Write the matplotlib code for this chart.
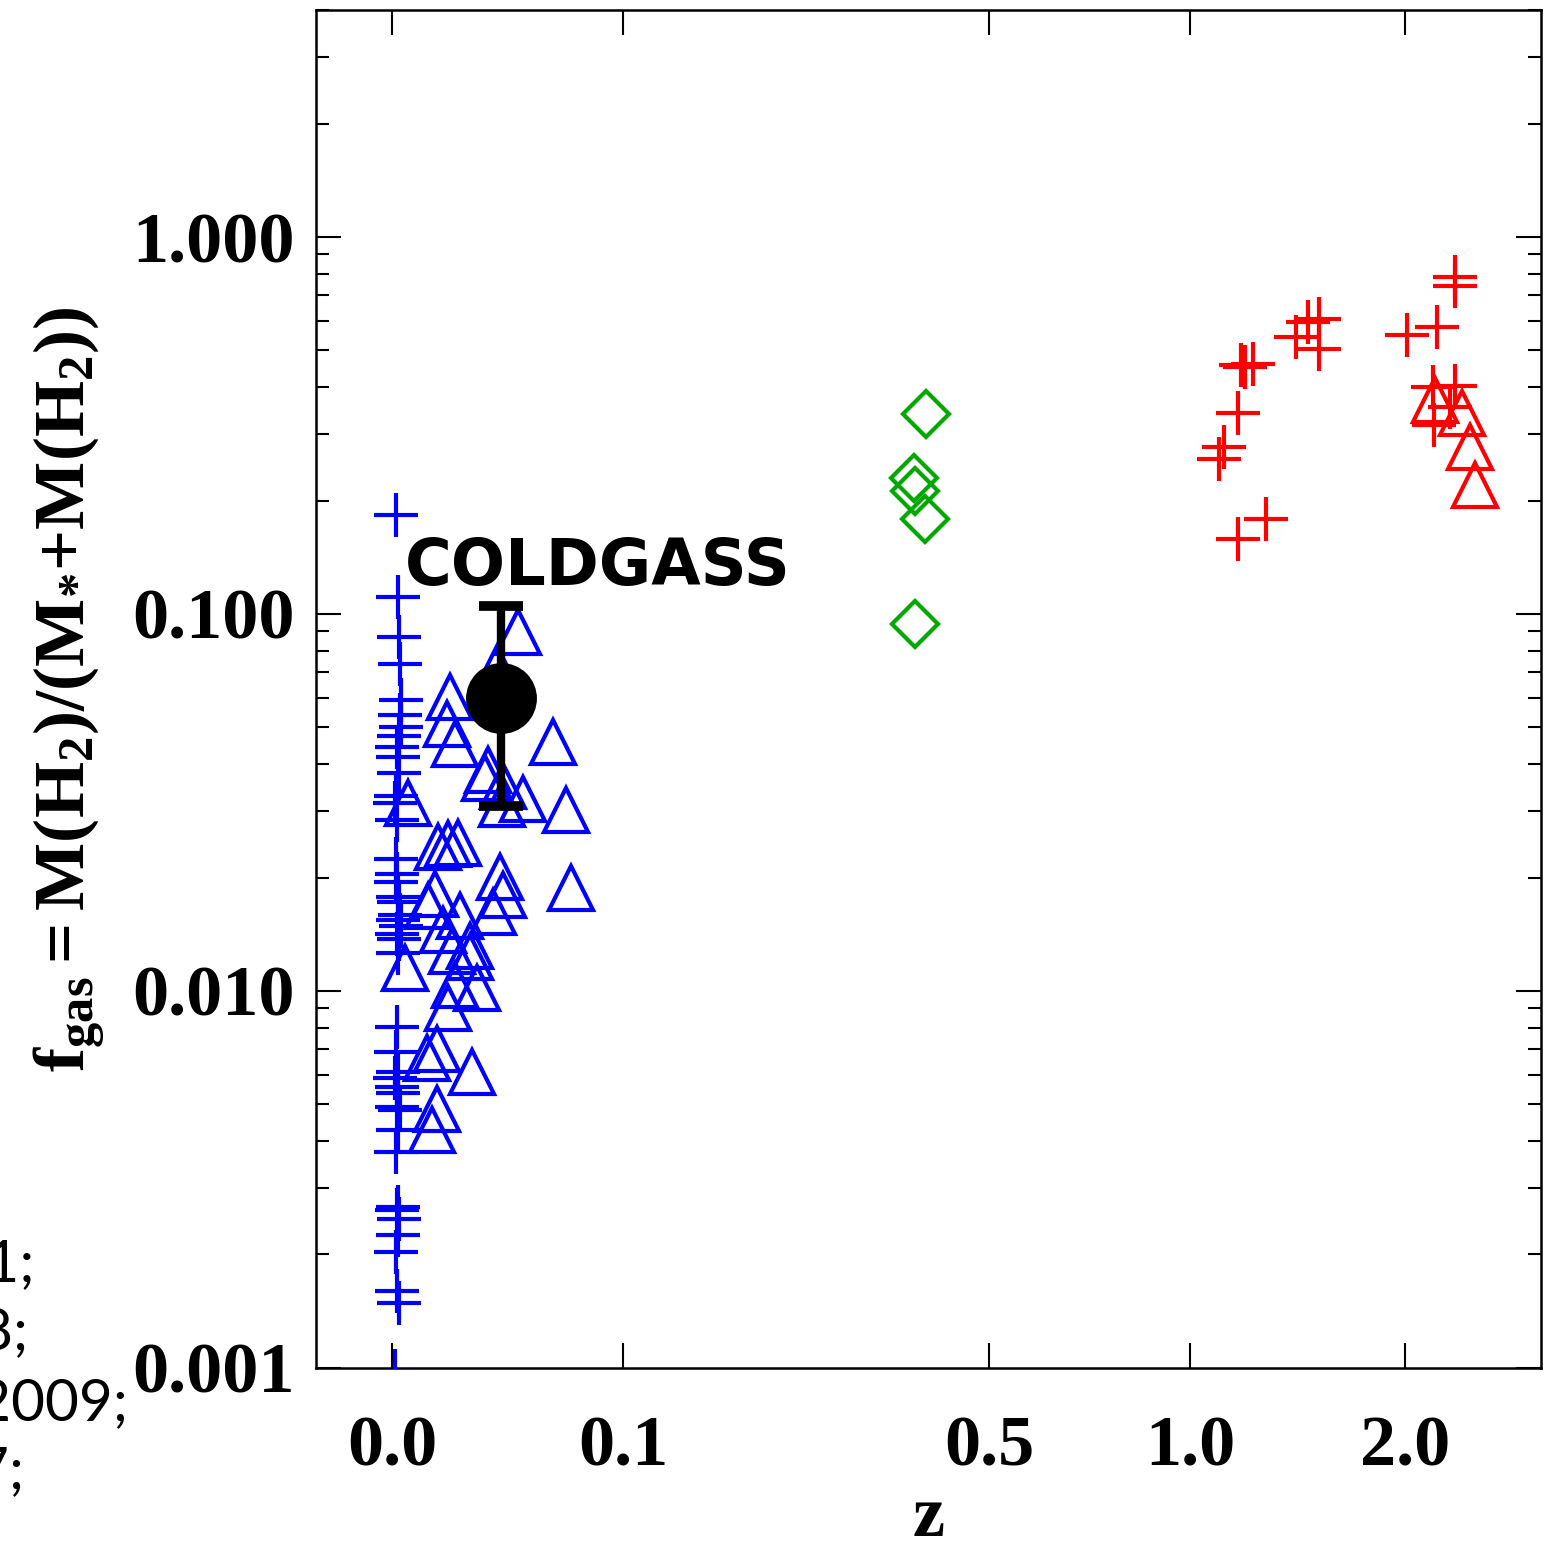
import numpy as np
import matplotlib
matplotlib.use('Agg')
import matplotlib.pyplot as plt
from matplotlib.ticker import FixedLocator, LogLocator, NullFormatter, FormatStrFormatter

# ---- data ----
# local galaxies, plus signs
blue_plus_z = [0.0017, 0.0026, 0.0030, 0.0035, 0.0039, 0.0035, 0.0040, 0.0030, 0.0022, 0.0026,
               0.0030, 0.0017, 0.0013, 0.0022, 0.0017, 0.0022, 0.0017, 0.0026, 0.0030, 0.0035,
               0.0026, 0.0039, 0.0022, 0.0030, 0.0026, 0.0022, 0.0017, 0.0026, 0.0013, 0.0022,
               0.0026, 0.0022, 0.0035, 0.0026, 0.0017, 0.0026, 0.0022, 0.0030, 0.0026, 0.0017,
               0.0022, 0.0030, 0.0013]
blue_plus_f = [0.183, 0.111, 0.0869, 0.0737, 0.0591, 0.0540, 0.0502, 0.0475, 0.0444, 0.0418,
               0.0379, 0.0329, 0.0315, 0.0284, 0.0224, 0.0204, 0.0195, 0.0178, 0.0172, 0.0159,
               0.0154, 0.0149, 0.0142, 0.0137, 0.0126, 0.00803, 0.00689, 0.00610, 0.00588, 0.00556,
               0.00536, 0.00493, 0.00484, 0.00428, 0.00374, 0.00267, 0.00262, 0.00248, 0.00225, 0.00203,
               0.00160, 0.00149, 0.00098]

# local galaxies, triangles
blue_tri_z = [0.0545, 0.0455, 0.0251, 0.0238, 0.0273, 0.0697, 0.0416, 0.0403, 0.0481, 0.0567,
              0.0753, 0.0069, 0.0476, 0.0199, 0.0242, 0.0286, 0.0468, 0.0481, 0.0437, 0.0186,
              0.0156, 0.0294, 0.0338, 0.0338, 0.0775, 0.0056, 0.0273, 0.0368, 0.0242, 0.0195,
              0.0346, 0.0152, 0.0195, 0.0173, 0.0221, 0.0260]
blue_tri_f = [0.0896, 0.0719, 0.0602, 0.0511, 0.0452, 0.0458, 0.0386, 0.0367, 0.0350, 0.0323,
              0.0302, 0.0315, 0.0313, 0.0241, 0.0245, 0.0247, 0.0201, 0.0180, 0.0162, 0.0181,
              0.0168, 0.0158, 0.0132, 0.0123, 0.0188, 0.0115, 0.0104, 0.0102, 0.00902, 0.00702,
              0.00610, 0.00665, 0.00486, 0.00428, 0.0145, 0.0128]

# intermediate z, diamonds
green_z = [0.431, 0.418, 0.419, 0.430, 0.419]
green_f = [0.339, 0.2295, 0.212, 0.1786, 0.0941]

# high z, plus signs and triangles
red_plus_z = [2.233, 2.233, 2.009, 2.149, 1.493, 1.549, 1.600, 1.600, 1.237, 1.256,
              1.293, 1.223, 1.158, 1.135, 1.353, 1.223, 2.130, 2.233, 2.135, 2.209]
red_plus_f = [0.783, 0.741, 0.550, 0.577, 0.543, 0.595, 0.606, 0.504, 0.458, 0.452,
              0.460, 0.341, 0.277, 0.258, 0.179, 0.158, 0.400, 0.402, 0.317, 0.354]
red_tri_z = [2.140, 2.265, 2.302, 2.326]
red_tri_f = [0.370, 0.341, 0.277, 0.220]

# COLDGASS mean point
cg_z = 0.047
cg_f = 0.0599
cg_lo = 0.031
cg_hi = 0.105

xtick_vals = [0.0, 0.1, 0.5, 1.0, 2.0]
xtick_labels = ['0.0', '0.1', '0.5', '1.0', '2.0']

# piecewise redshift axis of the original
z_knots = np.array([-0.05, 0.0, 0.1, 0.5, 1.0, 2.0, 3.0])
u_knots = np.array([-115.5, 0.0, 231.0, 597.0, 798.0, 1013.0, 1228.0])


def z_fwd(z):
    return np.interp(z, z_knots, u_knots)


def z_inv(u):
    return np.interp(u, u_knots, z_knots)


plt.rcParams['font.family'] = 'Liberation Serif'
plt.rcParams['font.weight'] = 'bold'
plt.rcParams['mathtext.fontset'] = 'custom'
plt.rcParams['mathtext.rm'] = 'Liberation Serif:bold'
plt.rcParams['mathtext.it'] = 'Liberation Serif:bold'
plt.rcParams['mathtext.bf'] = 'Liberation Serif:bold'
plt.rcParams['xtick.direction'] = 'in'
plt.rcParams['ytick.direction'] = 'in'

fig = plt.figure(figsize=(15.56, 15.44), dpi=100)
ax = fig.add_axes([0.2031, 0.1140, 0.7873, 0.8795])

ax.set_xscale('function', functions=(z_fwd, z_inv))
ax.set_yscale('log')

ax.plot(blue_plus_z, blue_plus_f, ls='none', marker='+', ms=31, mew=3, color='#0000ff', zorder=3)
ax.plot(blue_tri_z, blue_tri_f, ls='none', marker='^', ms=31, mew=3, mfc='none', mec='#0000ff', zorder=3)
ax.plot(green_z, green_f, ls='none', marker='D', ms=23, mew=3, mfc='none', mec='#00a800', zorder=3)
ax.plot(red_plus_z, red_plus_f, ls='none', marker='+', ms=31, mew=3, color='#ff0000', zorder=3)
ax.plot(red_tri_z, red_tri_f, ls='none', marker='^', ms=31, mew=3, mfc='none', mec='#ff0000', zorder=3)

ax.errorbar([cg_z], [cg_f], yerr=[[cg_f - cg_lo], [cg_hi - cg_f]], fmt='o', ms=50, color='black',
            elinewidth=6, capsize=16, capthick=7, zorder=5)
ax.text(0.0727, 0.5766, 'COLDGASS', transform=ax.transAxes, family='DejaVu Sans', fontweight='bold',
        fontsize=46, ha='left', va='baseline', zorder=6)

ax.set_xlim(-0.0329, 2.6326)
ax.set_ylim(0.001, 4.0)

ax.xaxis.set_major_locator(FixedLocator(xtick_vals))
ax.set_xticklabels(xtick_labels)
ax.xaxis.set_minor_locator(FixedLocator([]))
ax.yaxis.set_major_locator(FixedLocator([0.001, 0.01, 0.1, 1.0]))
ax.yaxis.set_major_formatter(FormatStrFormatter('%.3f'))
ax.yaxis.set_minor_locator(LogLocator(base=10, subs=np.arange(2, 10), numticks=20))
ax.yaxis.set_minor_formatter(NullFormatter())

ax.tick_params(axis='both', which='major', length=18, width=1.5, labelsize=52, top=True, right=True)
ax.tick_params(axis='y', which='minor', length=9.5, width=1.5, right=True)
ax.tick_params(axis='y', which='major', pad=15)
ax.tick_params(axis='x', which='major', pad=34)
for s in ax.spines.values():
    s.set_linewidth(1.8)

ax.set_xlabel('z', fontsize=52, fontweight='bold', labelpad=4)
ax.set_ylabel(r'$\mathrm{f_{gas} = M(H_2)/(M_{*}{+}M(H_2))}$', fontsize=52, labelpad=18)

# legend text of the neighbouring panel, cut off at the left edge
side_txt = ['Saintonge et al. 2011;', 'Leroy et al. 2008;', 'Geach et al. 2009;', 'Solomon et al. 1997;']
side_x = [35, 28, 128, 24]
side_y = [1281, 1350, 1420, 1488]
for t, x, y in zip(side_txt, side_x, side_y):
    fig.text(x / 1556, 1 - y / 1544, t, family='Lato', fontweight='normal', fontsize=42,
             ha='right', va='baseline')

fig.savefig('out.png', dpi=100)
